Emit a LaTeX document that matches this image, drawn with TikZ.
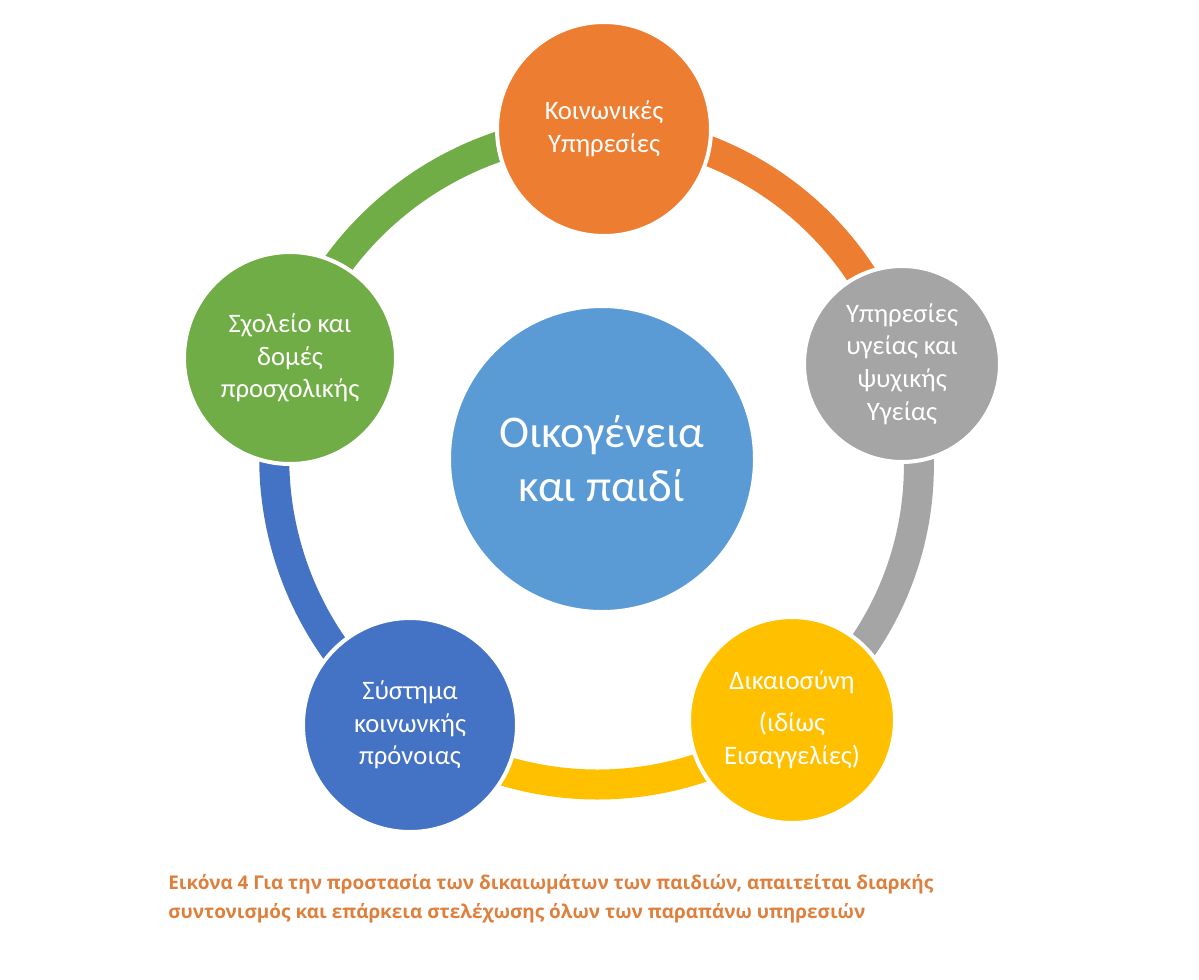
\documentclass[tikz,border=0pt]{standalone}
\usepackage{fontspec}
\setmainfont{Carlito}
\newfontfamily\captionfont{Open Sans}
\usetikzlibrary{backgrounds}

\definecolor{cfamily}{HTML}{5B9BD5}
\definecolor{csocial}{HTML}{ED7D31}
\definecolor{chealth}{HTML}{A5A5A5}
\definecolor{cjustice}{HTML}{FFC000}
\definecolor{cwelfare}{HTML}{4472C4}
\definecolor{cschool}{HTML}{70AD47}
\definecolor{ccaption}{HTML}{DF7F3C}

\begin{document}
\begin{tikzpicture}[x=0.75pt,y=-0.75pt,
  bubble/.style={circle,draw=white,line width=3pt,text=white,align=center,inner sep=0pt,
    font=\fontsize{20}{24.5}\selectfont},
  ring/.style={line width=22.5pt,looseness=0.94}]
\useasboundingbox (0,0) rectangle (1199,979);

% centre and the five services
\node[bubble,fill=cfamily,minimum size=229.5pt,font=\fontsize{34}{40.5}\selectfont] (family) at (602,459) {Οικογένεια\\και παιδί};
\node[bubble,fill=csocial,minimum size=160.5pt] (social) at (604,129) {Κοινωνικές\\Υπηρεσίες};
\node[bubble,fill=chealth,minimum size=147pt] (health) at (902,364) {Υπηρεσίες\\υγείας και\\ψυχικής\\Υγείας};
\node[bubble,fill=cjustice,minimum size=154.5pt] (justice) at (792,720) {Δικαιοσύνη\\[7pt](ιδίως\\Εισαγγελίες)};
\node[bubble,fill=cwelfare,minimum size=160.5pt] (welfare) at (410,725) {Σύστημα\\κοινωνκής\\πρόνοιας};
\node[bubble,fill=cschool,minimum size=159pt] (school) at (290,358) {Σχολείο και\\δομές\\προσχολικής};

% ring
\begin{scope}[on background layer]
\draw[ring,cschool] (school.center) to[bend left=36] (social.center);
\draw[ring,csocial] (social.center) to[bend left=36] (health.center);
\draw[ring,chealth] (health.center) to[bend left=36] (justice.center);
\draw[ring,cjustice] (justice.center) to[bend left=36] (welfare.center);
\draw[ring,cwelfare] (welfare.center) to[bend left=36] (school.center);
\end{scope}

\node[anchor=north west,align=left,inner sep=0pt,text=ccaption,
  font=\captionfont\bfseries\fontsize{14.2}{21.75}\selectfont] (caption) at (168,874)
  {Εικόνα 4 Για την προστασία των δικαιωμάτων των παιδιών, απαιτείται διαρκής\\
   συντονισμός και επάρκεια στελέχωσης όλων των παραπάνω υπηρεσιών};
\end{tikzpicture}
\end{document}
